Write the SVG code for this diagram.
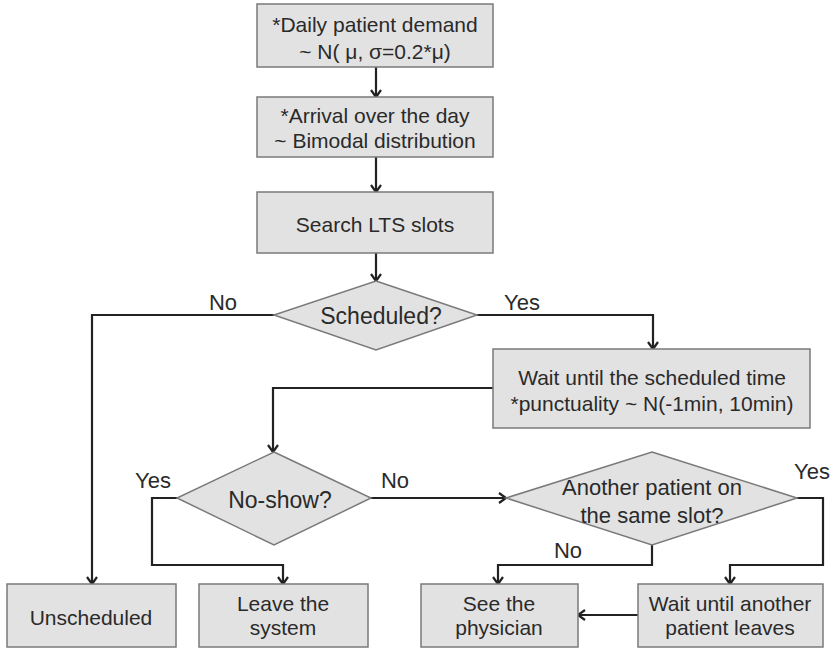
<svg xmlns="http://www.w3.org/2000/svg" width="833" height="649" viewBox="0 0 833 649">
  <style>
    .box { fill: #e2e2e2; stroke: #7a7a7a; stroke-width: 1.5; }
    .dec { fill: #e2e2e2; stroke: #7a7a7a; stroke-width: 1.5; }
    .t { font-family: "Liberation Sans", Arial, sans-serif; font-size: 21px; fill: #2a2a2a; text-anchor: middle; }
    .td { font-family: "Liberation Sans", Arial, sans-serif; font-size: 23px; fill: #2a2a2a; text-anchor: middle; }
    .lbl { font-family: "Liberation Sans", Arial, sans-serif; font-size: 22px; fill: #2a2a2a; text-anchor: middle; }
    .c { fill: none; stroke: #222; stroke-width: 2.2; marker-end: url(#arr); }
  </style>
  <defs>
    <marker id="arr" markerUnits="userSpaceOnUse" markerWidth="14" markerHeight="14" refX="10" refY="6" orient="auto">
      <path d="M3,1 L10,6 L3,11" fill="none" stroke="#222" stroke-width="2.2"/>
    </marker>
  </defs>

  <g id="connectors">
    <path class="c" d="M376,67 V97"/>
    <path class="c" d="M376,157 V192"/>
    <path class="c" d="M376,253 V281"/>
    <path class="c" d="M274,315 H92 V584"/>
    <path class="c" d="M477,315 H653 V349"/>
    <path class="c" d="M493,388 H273 V452"/>
    <path class="c" d="M177,498 H152 V565 H283 V584"/>
    <path class="c" d="M371,498 H506"/>
    <path class="c" d="M797,498 H823 V565 H730 V584"/>
    <path class="c" d="M652,545 V565 H498 V584"/>
    <path class="c" d="M638,615 H578"/>
    <text class="lbl" x="223" y="310">No</text>
    <text class="lbl" x="522" y="310">Yes</text>
    <text class="lbl" x="153" y="488">Yes</text>
    <text class="lbl" x="395" y="488">No</text>
    <text class="lbl" x="812" y="479">Yes</text>
    <text class="lbl" x="568" y="558">No</text>
  </g>

  <g id="demand">
    <rect class="box" x="257" y="4" width="236" height="63"/>
    <text class="t" x="375" y="32">*Daily patient demand</text>
    <text class="t" x="375" y="59">~ N( μ, σ=0.2*μ)</text>
  </g>
  <g id="arrival">
    <rect class="box" x="257" y="97" width="236" height="60"/>
    <text class="t" x="375" y="123">*Arrival over the day</text>
    <text class="t" x="375" y="148">~ Bimodal distribution</text>
  </g>
  <g id="search">
    <rect class="box" x="257" y="192" width="236" height="61"/>
    <text class="t" x="375" y="232">Search LTS slots</text>
  </g>
  <g id="scheduled">
    <polygon class="dec" points="376,281 477,315 376,350 274,315"/>
    <text class="td" x="381" y="324">Scheduled?</text>
  </g>
  <g id="wait-time">
    <rect class="box" x="493" y="349" width="317" height="79"/>
    <text class="t" x="652" y="385">Wait until the scheduled time</text>
    <text class="t" x="652" y="411">*punctuality ~ N(-1min, 10min)</text>
  </g>
  <g id="no-show">
    <polygon class="dec" points="274,452 371,498 274,545 177,498"/>
    <text class="td" x="280" y="508">No-show?</text>
  </g>
  <g id="another-patient">
    <polygon class="dec" points="652,452 797,498 652,545 506,498"/>
    <text class="lbl" x="652" y="495">Another patient on</text>
    <text class="lbl" x="652" y="523">the same slot?</text>
  </g>
  <g id="unscheduled">
    <rect class="box" x="7" y="584" width="169" height="63"/>
    <text class="t" x="91" y="625">Unscheduled</text>
  </g>
  <g id="leave">
    <rect class="box" x="199" y="584" width="169" height="63"/>
    <text class="t" x="283" y="611">Leave the</text>
    <text class="t" x="283" y="635">system</text>
  </g>
  <g id="physician">
    <rect class="box" x="421" y="584" width="157" height="63"/>
    <text class="t" x="499" y="611">See the</text>
    <text class="t" x="499" y="635">physician</text>
  </g>
  <g id="wait-another">
    <rect class="box" x="638" y="584" width="185" height="63"/>
    <text class="t" x="730" y="611">Wait until another</text>
    <text class="t" x="730" y="635">patient leaves</text>
  </g>
</svg>
